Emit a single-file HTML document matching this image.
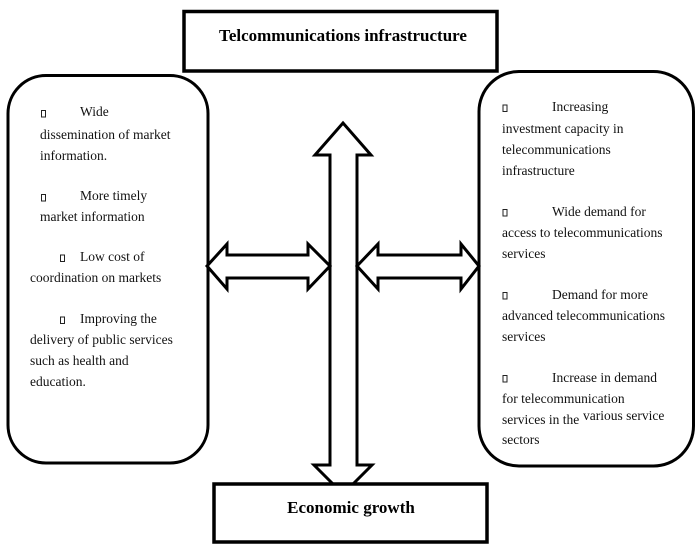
<!DOCTYPE html>
<html>
<head>
<meta charset="utf-8">
<style>
  html, body { margin: 0; padding: 0; background: #fff; }
  body { width: 700px; height: 549px; overflow: hidden; }
  svg { display: block; }
  .t { font-family: "Liberation Serif", "DejaVu Serif", serif; font-size: 13.5px; fill: #111; }
  .h { font-family: "Liberation Serif", "DejaVu Serif", serif; font-size: 17px; font-weight: bold; fill: #000; }
</style>
</head>
<body>
<svg width="700" height="549" viewBox="0 0 700 549" xmlns="http://www.w3.org/2000/svg">
  <rect x="0" y="0" width="700" height="549" fill="#fff"/>

  <!-- side panels -->
  <rect x="8" y="75.5" width="200" height="387.5" rx="38" ry="38" fill="#fff" stroke="#000" stroke-width="3"/>
  <rect x="479" y="71.5" width="214.5" height="394.5" rx="40" ry="40" fill="#fff" stroke="#000" stroke-width="3"/>

  <!-- vertical double arrow -->
  <polygon points="343,123 371,155 357,155 357,465 372,465 343,494 314,465 330,465 330,155 315,155"
           fill="#fff" stroke="#000" stroke-width="3" stroke-linejoin="miter"/>

  <!-- horizontal double arrows -->
  <polygon points="207,266 227,244 227,255 308,255 308,244 330,266 308,289 308,278 227,278 227,289"
           fill="#fff" stroke="#000" stroke-width="3"/>
  <polygon points="357,266 378,244 378,255 461,255 461,244 479,266 461,289 461,278 378,278 378,289"
           fill="#fff" stroke="#000" stroke-width="3"/>

  <!-- title boxes -->
  <rect x="184" y="11.5" width="313" height="59.5" fill="#fff" stroke="#000" stroke-width="3.5"/>
  <text class="h" x="343" y="41" text-anchor="middle">Telcommunications infrastructure</text>

  <rect x="214" y="484" width="273" height="58" fill="#fff" stroke="#000" stroke-width="3.5"/>
  <text class="h" x="351" y="513" text-anchor="middle">Economic growth</text>

  <!-- bullets -->
  <g fill="none" stroke="#222" stroke-width="1">
    <rect x="41.5" y="110.5" width="4" height="6.5"/>
    <rect x="41.5" y="194.5" width="4" height="6.5"/>
    <rect x="60.5" y="255" width="4" height="6.5"/>
    <rect x="60.5" y="317" width="4" height="6.5"/>
    <rect x="503" y="105" width="4" height="6.5"/>
    <rect x="503" y="209.5" width="4" height="6.5"/>
    <rect x="503" y="292.5" width="4" height="6.5"/>
    <rect x="503" y="375.5" width="4" height="6.5"/>
  </g>

  <!-- left panel text -->
  <text class="t" x="80" y="116">Wide</text>
  <text class="t" x="40" y="139">dissemination of market</text>
  <text class="t" x="40" y="160">information.</text>

  <text class="t" x="80" y="200">More timely</text>
  <text class="t" x="40" y="221">market information</text>

  <text class="t" x="80" y="261">Low cost of</text>
  <text class="t" x="30" y="282">coordination on markets</text>

  <text class="t" x="80" y="323">Improving the</text>
  <text class="t" x="30" y="344">delivery of public services</text>
  <text class="t" x="30" y="365">such as health and</text>
  <text class="t" x="30" y="386">education.</text>

  <!-- right panel text -->
  <text class="t" x="552" y="111">Increasing</text>
  <text class="t" x="502" y="133">investment capacity in</text>
  <text class="t" x="502" y="154">telecommunications</text>
  <text class="t" x="502" y="175">infrastructure</text>

  <text class="t" x="552" y="216">Wide demand for</text>
  <text class="t" x="502" y="237">access to telecommunications</text>
  <text class="t" x="502" y="258">services</text>

  <text class="t" x="552" y="299">Demand for more</text>
  <text class="t" x="502" y="320">advanced telecommunications</text>
  <text class="t" x="502" y="341">services</text>

  <text class="t" x="552" y="382">Increase in demand</text>
  <text class="t" x="502" y="403">for telecommunication</text>
  <text class="t" x="502" y="424">services in the</text>
  <text class="t" x="583" y="420">various service</text>
  <text class="t" x="502" y="444">sectors</text>
</svg>
</body>
</html>
